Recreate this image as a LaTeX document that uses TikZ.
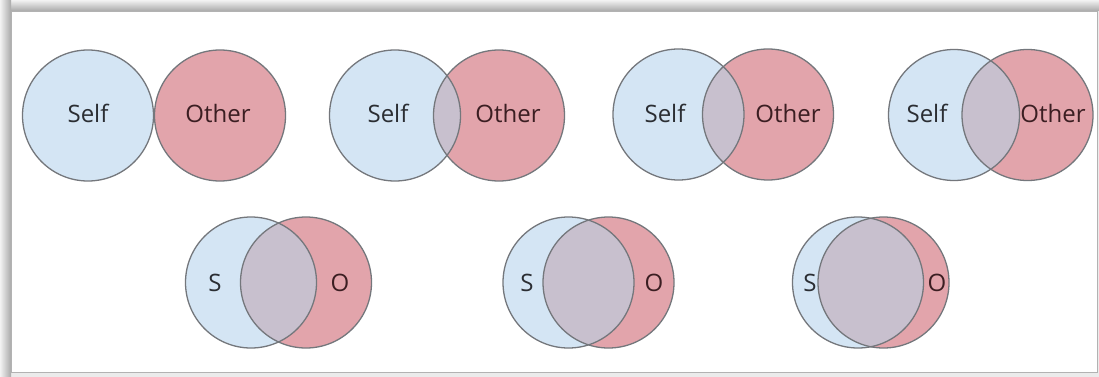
\documentclass[tikz,border=0pt]{standalone}
\usepackage{fontspec}
\setmainfont{Open Sans}
\definecolor{bluef}{HTML}{D4E5F4}
\definecolor{redf}{HTML}{E2A4AB}
\definecolor{overf}{HTML}{C8C0CE}
\definecolor{ringc}{HTML}{74777C}
\definecolor{selftxt}{HTML}{2B2E33}
\definecolor{othertxt}{HTML}{3B1E22}
\definecolor{shadowc}{HTML}{A9A9A9}
\newcommand\vennpair[3]{%
  \fill[bluef] (#1,#3) circle [radius=65.5pt];
  \fill[redf] (#2,#3) circle [radius=65.5pt];
  \begin{scope}
    \clip (#1,#3) circle [radius=65.5pt];
    \fill[overf] (#2,#3) circle [radius=65.5pt];
  \end{scope}
  \draw[ring] (#1,#3) circle [radius=65.5pt];
  \draw[ring] (#2,#3) circle [radius=65.5pt];
}
\begin{document}
\begin{tikzpicture}[x=1pt,y=-1pt,
  ring/.style={draw=ringc,line width=1.3pt},
  lbl/.style={inner sep=0pt,anchor=base,font=\fontsize{24}{28}\selectfont},
  slbl/.style={lbl,text=selftxt},
  olbl/.style={lbl,text=othertxt}]
\useasboundingbox (0,0) rectangle (1099,377);
% frame with shadow
\fill[white!92!black] (0,0) rectangle (1099,377);
\shade[top color=white!95!black,bottom color=shadowc] (0,0) rectangle (1099,11);
\shade[left color=white!95!black,right color=shadowc] (0,0) rectangle (11,377);
\fill[white] (11,11) rectangle (1097,372);
\draw[white!70!black,line width=0.8pt] (11,11) rectangle (1097,372);
% top row
\vennpair{88}{220}{115.5}
\vennpair{395}{499}{115.5}
\vennpair{678.5}{768}{114.5}
\vennpair{954}{1027.5}{115}
\node[slbl] (self1) at (88,122) {Self};
\node[olbl] (other1) at (218,122) {Other};
\node[slbl] (self2) at (388,122) {Self};
\node[olbl] (other2) at (508,122) {Other};
\node[slbl] (self3) at (665,122) {Self};
\node[olbl] (other3) at (788,122) {Other};
\node[slbl] (self4) at (927,122) {Self};
\node[olbl] (other4) at (1053,122) {Other};
% bottom row
\vennpair{251}{306}{282.5}
\vennpair{568.5}{608.5}{282.5}
\vennpair{858}{883.5}{282.5}
\node[slbl] (s1) at (215,291.5) {S};
\node[olbl] (o1) at (340,291.5) {O};
\node[slbl] (s2) at (527,291.5) {S};
\node[olbl] (o2) at (654,291.5) {O};
\node[slbl] (s3) at (810,291.5) {S};
\node[olbl] (o3) at (937,291.5) {O};
\end{tikzpicture}
\end{document}
